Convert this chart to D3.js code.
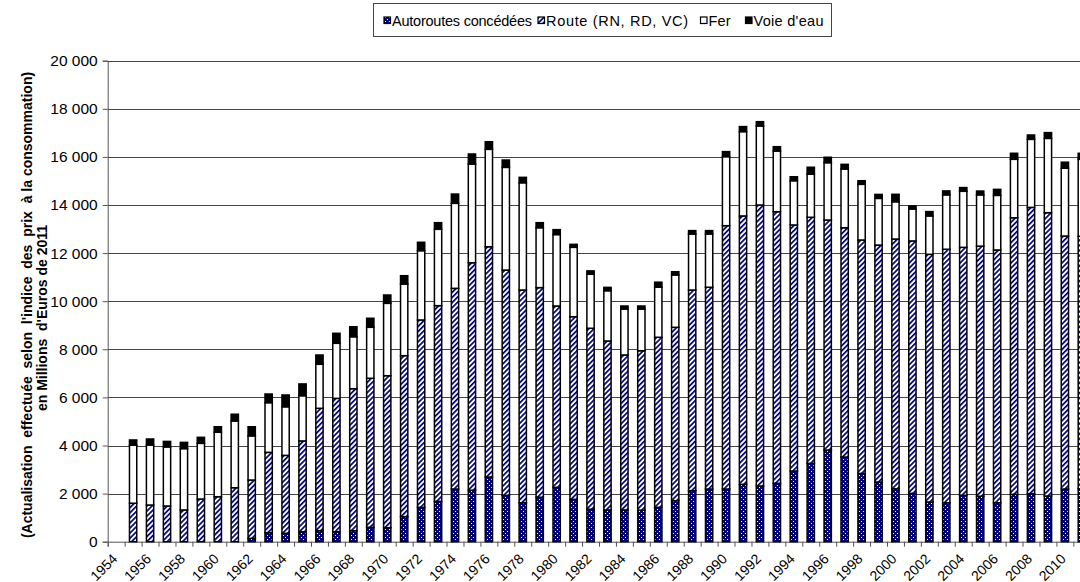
<!DOCTYPE html>
<html><head><meta charset="utf-8">
<script src="https://cdn.jsdelivr.net/npm/d3@7"></script>
<style>
html,body{margin:0;padding:0;background:#fff;overflow:hidden}
svg{display:block;font-family:"Liberation Sans",Arial,sans-serif}
</style>
</head><body>
<svg id="c" width="1080" height="582"></svg>
<script>
const years = [1954,1955,1956,1957,1958,1959,1960,1961,1962,1963,1964,1965,1966,1967,1968,1969,1970,1971,1972,1973,1974,1975,1976,1977,1978,1979,1980,1981,1982,1983,1984,1985,1986,1987,1988,1989,1990,1991,1992,1993,1994,1995,1996,1997,1998,1999,2000,2001,2002,2003,2004,2005,2006,2007,2008,2009,2010,2011];
const autoroutes = [null,0,0,0,0,0,0,0,140,375,350,415,457,415,457,600,582,1040,1430,1680,2190,2140,2690,1930,1620,1850,2260,1760,1350,1320,1320,1310,1430,1705,2120,2190,2190,2385,2315,2430,2940,3260,3810,3520,2840,2480,2200,2010,1650,1620,1930,1890,1620,1970,2000,1900,2190,2200];
const route = [null,1600,1525,1485,1320,1775,1870,2245,2425,3340,3240,3775,5090,5545,5905,6195,6320,6695,7790,8135,8345,9460,9575,9365,8845,8715,7540,7595,7525,7025,6445,6630,7070,7210,8345,8390,10950,11160,11685,11290,10230,10230,9565,9535,9705,9855,10385,10495,10300,10540,10310,10400,10510,11500,11900,11780,10520,10500];
const fer = [null,2410,2495,2455,2550,2315,2680,2775,1835,2065,2020,1880,1830,2290,2160,2120,3010,2980,2880,3175,3535,4105,4050,4270,4460,2490,2970,2885,2245,2090,1910,1735,2080,2175,2330,2215,2870,3505,3285,2525,1840,1790,2385,2440,2315,1940,1550,1330,1595,2260,2330,2130,2270,2430,2830,3090,2820,3200];
const voieEau = [null,220,250,230,260,250,230,280,380,360,490,490,385,415,415,375,345,345,350,275,385,415,315,305,225,210,205,125,140,140,125,125,210,135,140,140,210,210,180,180,165,290,225,195,150,165,310,125,180,165,155,160,250,250,180,240,250,250];
const seriesNames = ["Autoroutes concédées","Route (RN, RD, VC)","Fer","Voie d'eau"];
const yTicks = [0,2000,4000,6000,8000,10000,12000,14000,16000,18000,20000];
const xLabelYears = [1954,1956,1958,1960,1962,1964,1966,1968,1970,1972,1974,1976,1978,1980,1982,1984,1986,1988,1990,1992,1994,1996,1998,2000,2002,2004,2006,2008,2010];
const yTitle1 = "en Millions  d'Euros de 2011";
const yTitle2 = "(Actualisation  effectuée  selon  l'indice  des  prix  à la consommation)";

const keys = ["a","r","f","e"];
const rows = years.map((yr,i)=>({year:yr,a:autoroutes[i]||0,r:route[i]||0,f:fer[i]||0,e:voieEau[i]||0}));

const svg = d3.select("#c");
const pL = 107.7, pRt = 1090.3, pT = 60.7, pB = 541.7;
const pad = 0.57;
const x = d3.scaleBand().domain(years).range([pL,pRt]).paddingInner(pad).paddingOuter(pad/2);
const xb = d3.scaleLinear().domain([1954,2012]).range([pL,pRt]);
const y = d3.scaleLinear().domain([0,20000]).range([pB,pT]);

const defs = svg.append("defs");
const pA = defs.append("pattern").attr("id","pA").attr("patternUnits","userSpaceOnUse").attr("width",4).attr("height",4);
pA.append("rect").attr("width",4).attr("height",4).attr("fill","#000080");
pA.append("rect").attr("x",1).attr("y",1).attr("width",1).attr("height",1).attr("fill","#fff");
pA.append("rect").attr("x",3).attr("y",3).attr("width",1).attr("height",1).attr("fill","#fff");
const pR = defs.append("pattern").attr("id","pR").attr("patternUnits","userSpaceOnUse").attr("width",3.6).attr("height",10).attr("patternTransform","rotate(45)");
pR.append("rect").attr("width",3.6).attr("height",10).attr("fill","#fff");
pR.append("rect").attr("width",1.7).attr("height",10).attr("fill","#000080");
const fills = {a:"url(#pA)",r:"url(#pR)",f:"#fff",e:"#000"};

// gridlines
svg.append("g").selectAll("line").data(yTicks.filter(d=>d>0)).join("line")
  .attr("x1",pL).attr("x2",1080).attr("y1",d=>Math.round(y(d))+0.5).attr("y2",d=>Math.round(y(d))+0.5)
  .attr("stroke","#444").attr("stroke-width",1);

// y axis
const fr = d3.formatLocale({decimal:",",thousands:"\u00a0",grouping:[3],currency:["","€"]});
const yAxis = svg.append("g").attr("transform",`translate(${pL},0)`)
  .call(d3.axisLeft(y).tickValues(yTicks).tickSize(5).tickPadding(5).tickFormat(fr.format(",d")));
yAxis.select(".domain").attr("stroke","#555");
yAxis.selectAll(".tick line").attr("stroke","#555");
yAxis.selectAll("text").attr("font-size",15.5).attr("fill","#000").attr("font-family","'Liberation Sans',Arial,sans-serif");

// x axis ticks at category boundaries
const xAxis = svg.append("g").attr("transform",`translate(0,${pB})`)
  .call(d3.axisBottom(xb).tickValues(d3.range(1954,2013)).tickSize(5).tickFormat(""));
xAxis.select(".domain").attr("stroke","#555");
xAxis.selectAll(".tick line").attr("stroke","#555");

// x labels
svg.append("g").selectAll("text").data(xLabelYears).join("text")
  .attr("transform",d=>`translate(${x(d)+x.bandwidth()/2+2},${pB+18}) rotate(-45)`)
  .attr("text-anchor","end").attr("font-size",14).text(d=>d);

// bars
const stack = d3.stack().keys(keys)(rows);
svg.append("g").selectAll("g").data(stack).join("g")
  .attr("fill",d=>fills[d.key])
  .selectAll("rect").data(d=>d.filter(v=>v[1]-v[0]>0)).join("rect")
  .attr("x",d=>x(d.data.year)).attr("width",x.bandwidth())
  .attr("y",d=>y(d[1])).attr("height",d=>y(d[0])-y(d[1]))
  .attr("stroke","#000").attr("stroke-width",1.5);

// y title
svg.append("text").attr("transform","translate(46.5,318) rotate(-90)").attr("text-anchor","middle")
  .attr("font-weight","bold").attr("font-size",14).style("white-space","pre").text(yTitle1);
svg.append("text").attr("transform","translate(31.5,305) rotate(-90)").attr("text-anchor","middle")
  .attr("font-weight","bold").attr("font-size",14).style("white-space","pre").text(yTitle2);

// legend
const lg = svg.append("g");
lg.append("rect").attr("x",373.5).attr("y",3.5).attr("width",458).attr("height",33).attr("fill","#fff").attr("stroke","#444");
const lx = [384,538,700.5,745.5];
const lw = [140,142,22,70];
const lfill = [fills.a,fills.r,fills.f,fills.e];
seriesNames.forEach((n,i)=>{
  lg.append("rect").attr("x",lx[i]).attr("y",17).attr("width",6.5).attr("height",6.5).attr("fill",lfill[i]).attr("stroke","#000").attr("stroke-width",1.2);
  lg.append("text").attr("x",lx[i]+8).attr("y",26).attr("font-size",14.5)
    .attr("textLength",lw[i]).attr("lengthAdjust","spacing").text(n);
});
</script>
</body></html>
